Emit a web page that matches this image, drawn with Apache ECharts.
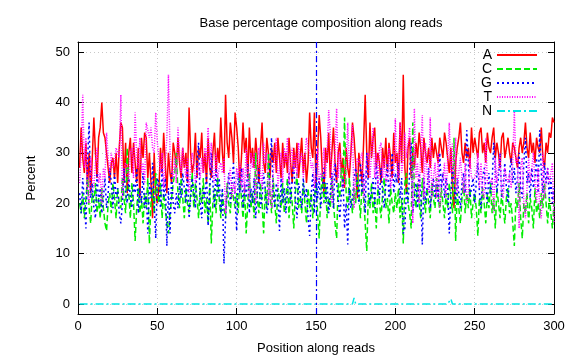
<!DOCTYPE html>
<html><head><meta charset="utf-8">
<script src="https://cdn.jsdelivr.net/npm/echarts@6/dist/echarts.min.js"></script>
<style>html,body{margin:0;padding:0;background:#fff}#c{width:576px;height:360px}</style>
</head><body><div id="c"></div>
<script>
const titleText = 'Base percentage composition along reads';
const xTitle = 'Position along reads';
const yTitle = 'Percent';
const seriesNames = ['A', 'C', 'G', 'T', 'N'];
const startPos = 1;
const boundaryPos = 150;
const xTickValues = [0, 50, 100, 150, 200, 250, 300];
const yTickValues = [0, 10, 20, 30, 40, 50];

const valuesA = [
27,35,29,26,32,23,30,22,29,37,
30,25,33,35,40,34,33,30,27,24,
28,29,25,30,24,31,36,35,24,32,
22,30,33,26,32,28,24,31,21,33,
29,34,33,25,30,24,17,30,22,20,
23,31,26,34,28,22,30,26,24,32,
30,27,33,28,25,31,27,30,24,39,
30,26,28,34,25,31,29,34,26,30,
24,33,27,25,30,34,26,31,28,37,
30,26,41.5,32,29,36,33,28,38,35,
31,24,29,36,30,33,25,35,28,31,
27,33,29,24,31,36,28,26,33,30,
25,31,28,32,26,33,29,25,32,27,
30,26,33,28,24,31,27,32,25,29,
33,26,30,24,28,38,31,29,38,23,
30,37.5,33,26,22,31,28,34,25,30,
35,28,24,30,32,26,29,23,31,27,
25,30,36,33,28,21,30,27,24,32,
41.5,30,25,36,29,33,35,27,30,28,
24,31,27,33,26,32,29,25,34,28,
30,24,36,28,45.5,27,22,31,33,25,
30,27,32,29,34,31,26,33,30,28,
31,27,33,29,32,30,28,33,31,29,
34,32,29,26,31,23,19,28,31,33,
36,30,28,32,29,31,27,35,30,33,
31,29,34,35,30,32,28,34,31,30,
33,35,29,32,30,27,33,34,29,31,
33,30,28,32,31,29,27,31,33,30,
32,36,31,29,34,30,32,28,33,31,
30,35,29,27,32,30,34,33,37,36
];
const valuesC = [
20,18,22,17,21,25,19,16,22,20,
24,18,21,17,23,19,16,14.5,20,22,
18,24,21,17,23,20,19,25,21,18,
31,22,17,24,20,12.5,19,23,18,21,
16,22,19,25,12,20,23,18,26,22,
20,24,17,22,19,16,14,18,21,24,
26,30,22,19,25,21,17,23,20,18,
22,26,19,24,21,17,23,20,25,18,
21,16,24,12,20,23,18,25,21,17,
22,19,17,24,20,18,23,21,19,22,
18,25,21,17,23,14,20,26,19,22,
17,30,21,18,24,20,14,23,19,30,
22,18,25,20,16,23,21,19,24,18,
21,25,17,23,20,15,22,26,19,21,
18,24,20,16,23,19,22,17,21,24,
18,13,22,26,20,24,17,21,19,25,
20,16,13,24,21,27,23,37,22,19,
25,21,18,23,20,26,22,17,24,21,
16,10.5,22,19,24,18,21,15,23,20,
17,22,25,19,21,16,23,20,18,22,
19,23,17,21,12,24,26,20,18,15,
36,22,19,24,20,17,25,21,18,23,
20,17,24,21,19,25,22,18,23,20,
17,22,19,24,21,18,33,12.5,22,19,
16,21,24,18,22,19,23,17,20,22,
19,13.5,21,18,23,20,16,22,19,24,
18,21,15,23,20,17,22,19,16,21,
23,18,20,16,11.5,21,19,24,17,13,
20,18,22,16,21,19,15,23,18,20,
17,22,19,24,20,16,21,18,15,20
];
const valuesG = [
22,18,25,20,15,28,36,21,24,19,
17,26,20,23,18,21,25,19,22,27,
24,19,26,21,23,18,16,20,27,22,
20,25,21,19,24,22,27,18,23,20,
26,19,22,14,24,21,28,20,13,25,
24,19,27,21,25,11.5,23,14,26,20,
18,22,19,24,21,26,23,20,27,17,
21,25,22,19,28,32,20,17,23,21,
26,15.5,22,30,24,19,27,21,25,18,
23,8,17,22,26,20,24,28,21,14.5,
26,22,27,19,24,21,28,18,23,20,
25,17,22,27,19,21,26,23,18,20,
28,33,22,19,24,21,14.5,25,20,23,
18,22,26,20,25,28,21,17,24,22,
19,25,21,23,17,13.5,22,26,18,28,
21,25,19,23,27,20,24,18,22,26,
19,28,24,21,17,22,25,15,20,11.8,
23,19,21,25,27,24,20,28,22,26,
18,30,23,20,22,25,19,28,24,21,
27,22,19,24,28,21,25,30,22,26,
24,28,21,25,14,15,23,20,26,32,
18,21,24,19,26,22,11.8,25,20,23,
27,19,22,25,21,24,20,30,23,26,
21,25,23,14,22,27,24,20,25,22,
19,24,26,22,34.5,28,21,23,25,20,
24,28,22,19,25,27,23,20,26,22,
24,32,27,22,25,30,21,24,28,23,
20,26,29,24,27,22,25,30,23,21,
28,33,24,26,21,27,23,25,29,22,
34.5,26,22,28,24,27,21,25,20,23
];
const valuesT = [
24,30,41.5,27,33,22,20,29,25,23,
28,31,24,26,20,27,25,34,29,26,
30,27,28,31,30,29,41.5,21,27,28,
27,24,30,31,25,38,29,27,33,26,
28,24,36,36,33,35,31,30,38,32,
32,26,30,23,28,33,45.5,30,27,25,
29,24,35,30,26,31,28,25,29,22,
27,30,28,24,26,28,25,29,26,31,
28,35,27,32,26,24,30,25,27,28,
26,29,18,23,25,27,21,24,22,27,
25,28,23,27,22,31,26,21,30,27,
30,20,28,31,26,23,32,28,30,20,
25,19,26,29,33,23,27,30,24,31,
28,33,24,29,31,26,30,25,32,28,
30,25,29,33,31,30,27,28,23,26,
31,24,26,25,31,25,30,38.5,34,20,
26,30,38.8,25,30,25,23,24,27,36,
27,30,35.5,19,25,29,28,28,30,21,
24,29,30,25,25,35,25,30,23,31,
32,25,29,24,25,31,23,25,26,36.8,
27,25,36,26,28.5,34,29,29,35,28,
16,38.8,25,28,20,30,37.5,21,32,26,
22,37,21,25,28,21,30,19,23,25,
28,21,29,36,26,32,24,33,22,26,
29,25,22,28,20,22,29,25,25,25,
26,30,23,28,22,21,33,24,24,24,
25,18,29,24,27,30,22,21,27,25,
24,26,23,28,38.5,28,29,15,27,29,
20,17,23,29,24,24,30,24,20,27,
19,17,30,21,24,27,24,24,28,16
];
const valuesN = [
0,0,0,0,0,0,0,0,0,0, 0,0,0,0,0,0,0,0,0,0, 0,0,0,0,0,0,0,0,0,0,
0,0,0,0,0,0,0,0,0,0, 0,0,0,0,0,0,0,0,0,0, 0,0,0,0,0,0,0,0,0,0,
0,0,0,0,0,0,0,0,0,0, 0,0,0,0,0,0,0,0,0,0, 0,0,0,0,0,0,0,0,0,0,
0,0,0,0,0,0,0,0,0,0, 0,0,0,0,0,0,0,0,0,0, 0,0,0,0,0,0,0,0,0,0,
0,0,0,0,0,0,0,0,0,0, 0,0,0,0,0,0,0,0,0,0, 0,0,0,0,0,0,0,0,0,0,
0,0,0,0,0,0,0,0,0,0, 0,0,0,0,0,0,0,0,0,0,
0,0,0,1.2,0,0,0,0,0,0,
0,0,0,0,0,0,0,0,0,0, 0,0,0,0,0,0,0,0,0,0, 0,0,0,0,0,0,0,0,0,0,
0,0,0,0,0,0,0,0,0,0, 0,0,0,0,0,0,0,0,0,0,
0,0,0,0,1.0,0,0,0,0,0,
0,0,0,0,0,0,0,0,0,0, 0,0,0,0,0,0,0,0,0,0, 0,0,0,0,0,0,0,0,0,0,
0,0,0,0,0,0,0,0,0,0, 0,0,0,0,0,0,0,0,0,0, 0,0,0,0,0,0,0,0,0,0
];

const allValues = [valuesA, valuesC, valuesG, valuesT, valuesN];
allValues.forEach((a, i) => { if (a.length !== 300) throw new Error(seriesNames[i] + ' length ' + a.length); });

const colors = ['#ff0000', '#00ee00', '#0000ff', '#ff00ff', '#00e5e5'];
const dashes = ['solid', [6, 3], [2, 3], [1, 1.5], [8, 3, 2, 3]];
const FONT = 'Liberation Sans, Arial, Helvetica, sans-serif';

function pairs(arr) { return arr.map((v, i) => [startPos + i, v]); }

const series = seriesNames.map((name, i) => {
  const s = {
    name: name, type: 'line', data: pairs(allValues[i]),
    symbol: 'none', showSymbol: false, animation: false,
    lineStyle: { color: colors[i], width: 1.5, type: dashes[i] },
    itemStyle: { color: colors[i] }
  };
  if (name === 'G') {
    s.markLine = {
      silent: true, symbol: ['none', 'none'], label: { show: false }, animation: false,
      lineStyle: { color: '#0000ff', width: 1.2, type: [6, 3, 2, 3] },
      data: [{ xAxis: boundaryPos }]
    };
  }
  return s;
});

const axisLineStyle = { show: true, onZero: false, lineStyle: { color: '#000', width: 1 } };
const tickStyle = { show: true, inside: true, length: 6, lineStyle: { color: '#000', width: 1 } };
const gridLine = { show: true, lineStyle: { color: '#c8c8c8', width: 1, type: [1, 3] } };

const chart = echarts.init(document.getElementById('c'), null, { renderer: 'canvas' });
chart.setOption({
  animation: false,
  backgroundColor: '#fff',
  title: {
    text: titleText, left: 316, top: 12, textAlign: 'center',
    textStyle: { fontFamily: FONT, fontSize: 13, fontWeight: 'normal', color: '#000' }
  },
  legend: {
    orient: 'vertical', right: 33, top: 43, align: 'right',
    itemWidth: 40, itemHeight: 14, itemGap: 0,
    itemStyle: { opacity: 0 },
    textStyle: { fontFamily: FONT, fontSize: 14, color: '#000', lineHeight: 14 },
    data: seriesNames
  },
  grid: { left: 78, right: 22, top: 42, bottom: 44, containLabel: false },
  xAxis: [{
    type: 'value', min: 0, max: 300, interval: 50, position: 'bottom',
    name: xTitle, nameLocation: 'middle', nameGap: 28,
    nameTextStyle: { fontFamily: FONT, fontSize: 13, color: '#000' },
    axisLine: axisLineStyle, axisTick: tickStyle,
    axisLabel: { fontFamily: FONT, fontSize: 13, color: '#000', margin: 6,
      formatter: v => xTickValues.includes(v) ? String(v) : '' },
    splitLine: gridLine
  }, {
    type: 'value', min: 0, max: 300, interval: 50, position: 'top',
    axisLine: axisLineStyle, axisTick: tickStyle, axisLabel: { show: false }, splitLine: { show: false }
  }],
  yAxis: [{
    type: 'value', min: -2, max: 52, splitNumber: 5, position: 'left',
    name: yTitle, nameLocation: 'middle', nameGap: 40,
    nameTextStyle: { fontFamily: FONT, fontSize: 13, color: '#000' },
    axisLine: axisLineStyle, axisTick: tickStyle,
    axisLabel: { fontFamily: FONT, fontSize: 13, color: '#000', margin: 8,
      formatter: v => yTickValues.includes(v) ? String(v) : '' },
    splitLine: gridLine
  }, {
    type: 'value', min: -2, max: 52, splitNumber: 5, position: 'right',
    axisLine: axisLineStyle, axisTick: tickStyle, axisLabel: { show: false }, splitLine: { show: false }
  }],
  series: series
});
</script>
</body></html>
